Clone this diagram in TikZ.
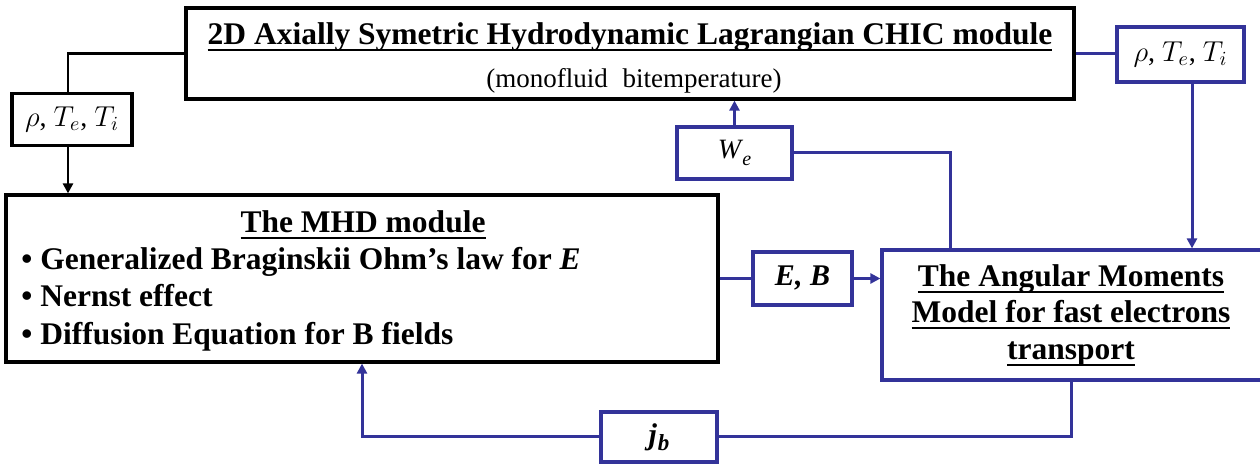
\documentclass[tikz,border=0pt]{standalone}
\usepackage{fontspec}
\setmainfont{Liberation Serif}
\usetikzlibrary{arrows.meta}
\definecolor{dblue}{RGB}{51,51,153}
\newcommand{\myul}[1]{\setbox0\hbox{#1}\rlap{\rule[-3.2pt]{\wd0}{1.4pt}}\box0}
\newcommand{\hdfont}{\fontsize{15.75}{19}\selectfont\bfseries}
\newcommand{\lblfont}{\fontsize{14}{16}\selectfont}
\newcommand{\rholbl}{$\rho$,\hspace{0.25em}$T_e$,\hspace{0.25em}$T_i$}
\begin{document}
\begin{tikzpicture}[x=0.5pt,y=-0.5pt,
  blkbox/.style={draw=black,line width=1.6pt,inner sep=0pt,fill=white},
  blubox/.style={draw=dblue,line width=1.6pt,inner sep=0pt,fill=white},
  blkline/.style={draw=black,line width=1.3pt},
  bluline/.style={draw=dblue,line width=1.5pt},
  tip/.style={-{Triangle[length=5pt,width=5pt]}},
  txt/.style={inner sep=0pt}]
\useasboundingbox (0,0) rectangle (1260,464);

% boxes
\node[blkbox,minimum width=60pt,minimum height=26pt] (lrho) at (72,119.5)
  {\lblfont\rholbl};
\node[blkbox,minimum width=444pt,minimum height=45.5pt] (chic) at (630,53.5) {};
\node[blkbox,minimum width=356pt,minimum height=83.5pt] (mhd) at (362,278.5) {};
\node[blubox,minimum width=57.5pt,minimum height=26pt] (we) at (734.5,153)
  {\fontsize{14}{16}\selectfont\textit{W}\kern-0.5pt\raisebox{-0.55ex}{\fontsize{10}{12}\selectfont\textit{e}}};
\node[blubox,minimum width=63.5pt,minimum height=27.5pt] (rrho) at (1180.5,54.5)
  {\lblfont\rholbl};
\node[blubox,minimum width=49.5pt,minimum height=26.5pt] (eb) at (802.5,278.5)
  {\fontsize{15}{17}\selectfont\bfseries\itshape E, B};
\node[blubox,minimum width=190pt,minimum height=65pt] (ang) at (1072,315) {};
\node[blubox,minimum width=58pt,minimum height=25pt] (jb) at (659,437)
  {\fontsize{15}{17}\selectfont\bfseries\itshape j\kern0.5pt\raisebox{-0.45ex}{\fontsize{11.5}{12}\selectfont b}};

% texts
\node[txt,anchor=base,font=\hdfont] (t1) at (630,45)
  {\myul{2D Axially Symetric Hydrodynamic Lagrangian CHIC module}};
\node[txt,anchor=base,font=\fontsize{13.5}{16}\selectfont] (t2) at (634,88)
  {(monofluid\hspace{0.55em}bitemperature)};
\node[txt,anchor=base,font=\hdfont] (m0) at (363,233) {\myul{The MHD module}};
\node[txt,anchor=base west,font=\hdfont] (m1) at (21,270)
  {\textbullet\ Generalized Braginskii Ohm’s law for \textit{E}};
\node[txt,anchor=base west,font=\hdfont] (m2) at (21,307) {\textbullet\ Nernst effect};
\node[txt,anchor=base west,font=\hdfont] (m3) at (21,345)
  {\textbullet\ Diffusion Equation for B fields};
\node[txt,anchor=base,font=\hdfont] (a1) at (1071,287) {\myul{The Angular Moments}};
\node[txt,anchor=base,font=\hdfont] (a2) at (1071,323) {\myul{Model for fast electrons}};
\node[txt,anchor=base,font=\hdfont] (a3) at (1071,360) {\myul{transport}};

% coordinates for bends
\coordinate (k1) at (68,53.5);
\coordinate (k2) at (1192,0);
\coordinate (k3) at (950,0);
\coordinate (k4) at (1071,0);
\coordinate (k5) at (362,0);

% black connectors
\draw[blkline] (chic.west) -- (k1) -- (k1 |- lrho.north);
\draw[blkline,tip] (k1 |- lrho.south) -- (k1 |- mhd.north);

% blue connectors
\draw[bluline] (chic.east) -- (chic.east -| rrho.west);
\draw[bluline,tip] (k2 |- rrho.south) -- (k2 |- ang.north);
\draw[bluline,tip] (we.north) -- (we.north |- chic.south);
\draw[bluline] (we.east) -- (we.east -| k3) -- (k3 |- ang.north);
\draw[bluline] (mhd.east |- eb.west) -- (eb.west);
\draw[bluline,tip] (eb.east) -- (eb.east -| ang.west);
\draw[bluline] (k4 |- ang.south) -- (k4 |- jb.east) -- (jb.east);
\draw[bluline,tip] (jb.west) -- (jb.west -| k5) -- (k5 |- mhd.south);
\end{tikzpicture}
\end{document}
